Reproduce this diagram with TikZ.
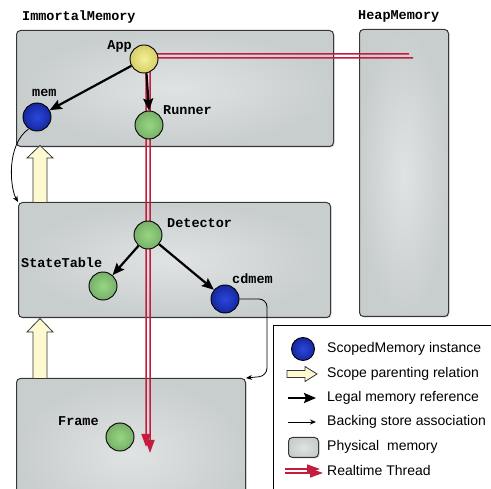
\documentclass[tikz,border=0pt]{standalone}
\usepackage{fontspec}
\setmainfont{Liberation Sans}
\newfontfamily\labfont{Liberation Mono}
\usetikzlibrary{arrows.meta,shadows,calc}
\definecolor{rtred}{RGB}{196,28,62}
\definecolor{boxin}{RGB}{224,227,227}
\definecolor{boxout}{RGB}{200,205,205}
\definecolor{boxline}{RGB}{55,55,55}
\definecolor{creamfill}{RGB}{253,249,208}
\definecolor{appin}{RGB}{244,240,150}
\definecolor{appout}{RGB}{214,206,104}
\definecolor{grin}{RGB}{150,215,130}
\definecolor{grout}{RGB}{120,175,105}
\definecolor{blin}{RGB}{45,70,220}
\definecolor{blout}{RGB}{20,40,160}
\begin{document}
\begin{tikzpicture}[x=1pt,y=-1pt,
  membox/.style={draw=boxline, line width=1pt, rounded corners=4pt, shading=radial, inner color=boxin, outer color=boxout, inner sep=0pt, anchor=north west,
    drop shadow={shadow xshift=1.2pt, shadow yshift=-1.2pt, opacity=0.25}},
  ballbase/.style={circle, draw=black, line width=0.9pt, minimum size=28pt, inner sep=0pt, shading=radial},
  appball/.style={ballbase, inner color=appin, outer color=appout},
  grball/.style={ballbase, inner color=grin, outer color=grout},
  blball/.style={ballbase, inner color=blin, outer color=blout},
  lab/.style={font=\labfont\bfseries\fontsize{13.5}{15}\selectfont, inner sep=0pt, anchor=west},
  legtext/.style={font=\fontsize{14}{16}\selectfont, inner sep=0pt, anchor=west},
  legal/.style={line width=2.2pt, -{Stealth[length=12pt,width=10pt,inset=2pt]}},
  backing/.style={line width=0.8pt, -{Stealth[length=6pt,width=5pt]}},
  rtline/.style={draw=rtred, line width=1.5pt, -{Triangle[length=13pt,width=9pt]}},
  scopearr/.style={fill=creamfill, draw=boxline, line width=0.8pt, line join=miter}
]
\useasboundingbox (0,0) rectangle (491,489);

% memory areas
\node[membox, minimum width=317pt, minimum height=116pt] (imm) at (16,30) {};
\node[membox, minimum width=89pt, minimum height=287pt] (heap) at (359,29) {};
\node[membox, minimum width=312pt, minimum height=115pt] (detbox) at (18,202) {};
\node[membox, minimum width=229pt, minimum height=150pt] (framebox) at (16,378) {};

\node[lab] (immlab) at (22,17) {ImmortalMemory};
\node[lab] (heaplab) at (358,16) {HeapMemory};

% scope parenting arrows
\filldraw[scopearr] (33,202) -- (33,158) -- (27,158) -- (40,145.5) -- (53,158) -- (47,158) -- (47,202);
\filldraw[scopearr] (33,378) -- (33,332) -- (27,332) -- (40,318.5) -- (53,332) -- (47,332) -- (47,378);

% realtime thread
\coordinate (rtA) at (409,54);
\coordinate (rtB) at (413,58);
\coordinate (rtAend) at (146,447);
\coordinate (rtBend) at (150,453);
\draw[rtline, rounded corners=8pt] (rtA) -| (rtAend);
\draw[rtline, rounded corners=6pt] (rtB) -| (rtBend);

% objects
\node[appball] (app) at (144,59) {};
\node[blball] (mem) at (37,117) {};
\node[grball] (runner) at (149,125) {};
\node[grball] (det) at (148,235) {};
\node[grball] (st) at (103,286) {};
\node[blball] (cdmem) at (225,299) {};
\node[grball] (frame) at (120,437) {};

\node[lab, anchor=east] (applab) at (132,46) {App};
\node[lab] (memlab) at (32,93) {mem};
\node[lab] (runlab) at (163,110) {Runner};
\node[lab] (detlab) at (167,223) {Detector};
\node[lab] (stlab) at (21,263) {StateTable};
\node[lab] (cdlab) at (232,279) {cdmem};
\node[lab] (frlab) at (58,421) {Frame};

% references
\draw[legal] (app) -- (mem);
\draw[legal] ([xshift=2.5pt]app.south) -- (runner.north);
\draw[legal] (det) -- (st);
\draw[legal] (det) -- (cdmem);

% backing store
\draw[backing] (mem.235) .. controls (6,145) and (10,188) .. (detbox.north west);
\draw[backing, rounded corners=8pt] (cdmem.east) -| ([xshift=21pt,yshift=2pt]framebox.north east) -- (framebox.north east);

% legend
\draw[line width=1pt] (273,500) -- (273,326) -- (500,326);
\node[blball, minimum size=23pt] (lg1) at (303,349) {};
\node[legtext] (lt1) at (327,349) {ScopedMemory instance};
\filldraw[scopearr] (287,370.5) -- (305,370.5) -- (305,366.5) -- (317,374) -- (305,381.5) -- (305,377.5) -- (287,377.5) -- cycle;
\node[legtext] (lt2) at (327,374) {Scope parenting relation};
\coordinate (l3a) at (288,398);
\coordinate (l3b) at (316,398);
\draw[legal] (l3a) -- (l3b);
\node[legtext] (lt3) at (327,398) {Legal memory reference};
\coordinate (l4a) at (288,422);
\coordinate (l4b) at (316,422);
\draw[backing] (l4a) -- (l4b);
\node[legtext] (lt4) at (327,422) {Backing store association};
\node[membox, minimum width=30pt, minimum height=20pt] (lg5) at (288,437) {};
\node[legtext] (lt5) at (327,447) {Physical\ \ memory};
\coordinate (l6a) at (285,469);
\coordinate (l6b) at (320,469);
\coordinate (l6c) at (285,473);
\coordinate (l6d) at (323,473);
\draw[rtline] (l6a) -- (l6b);
\draw[rtline] (l6c) -- (l6d);
\node[legtext] (lt6) at (327,470) {Realtime Thread};
\end{tikzpicture}
\end{document}
